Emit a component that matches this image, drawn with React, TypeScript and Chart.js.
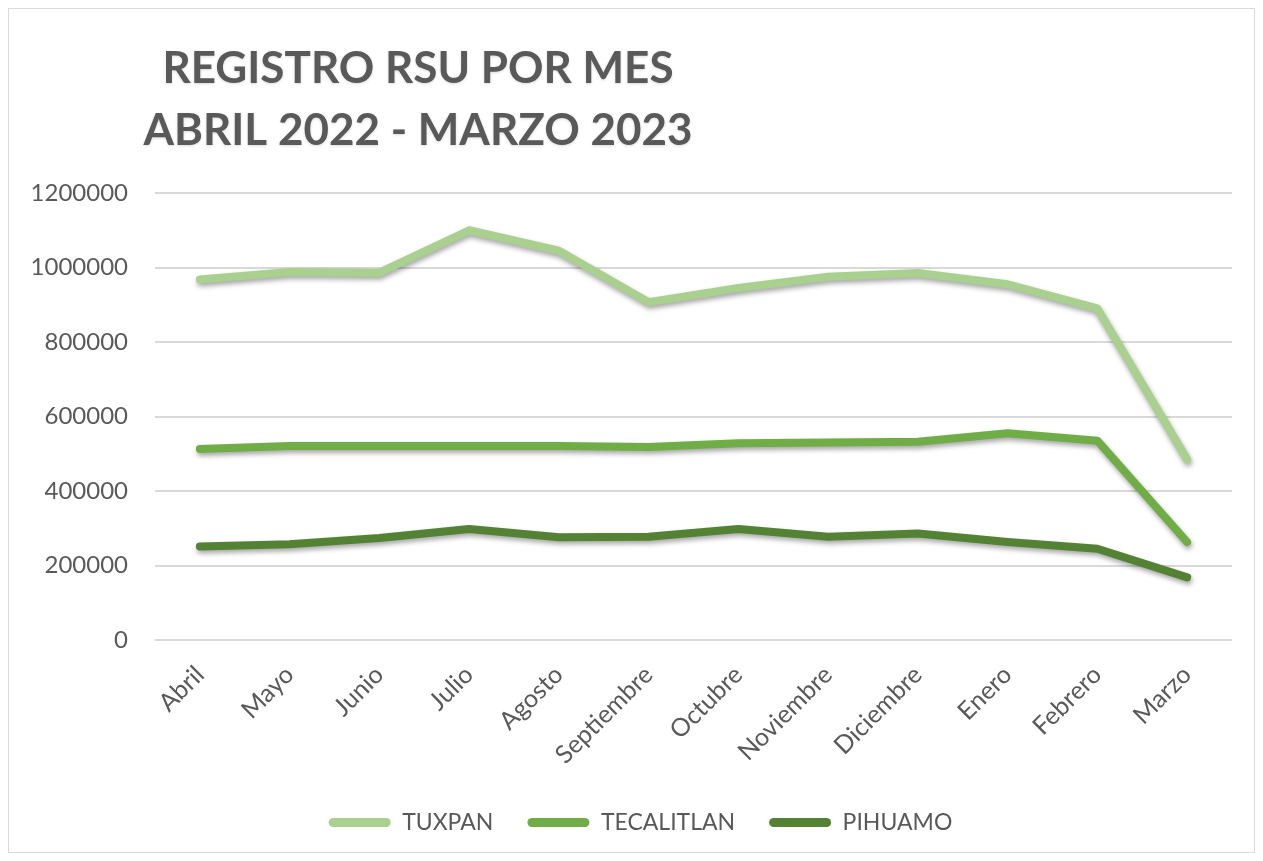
import React, { useEffect, useRef } from "react";
import { Chart, registerables } from "chart.js";

Chart.register(...registerables);

const titleLines = ["REGISTRO RSU POR MES", "ABRIL 2022 - MARZO 2023"];
const months = ["Abril", "Mayo", "Junio", "Julio", "Agosto", "Septiembre", "Octubre", "Noviembre", "Diciembre", "Enero", "Febrero", "Marzo"];
const tuxpan = [968000, 988000, 986000, 1100000, 1045000, 907000, 945000, 975000, 985000, 955000, 890000, 485000];
const tecalitlan = [513000, 521000, 521000, 521000, 521000, 518000, 528000, 530000, 532000, 555000, 535000, 263000];
const pihuamo = [251000, 257000, 274000, 298000, 276000, 277000, 298000, 277000, 286000, 263000, 245000, 168000];
const yMin = 0;
const yMax = 1200000;
const yStep = 200000;

const seriesNames = ["TUXPAN", "TECALITLAN", "PIHUAMO"];
const seriesColors = ["#a9d08e", "#70ad47", "#548235"];

export default function App() {
  const ref = useRef<HTMLCanvasElement>(null);

  useEffect(() => {
    if (!ref.current) return;
    const shadowPlugin = {
      id: "lineShadow",
      beforeDatasetsDraw(chart: any) {
        const ctx = chart.ctx;
        ctx.save();
        ctx.shadowColor = "rgba(0,0,0,0.35)";
        ctx.shadowBlur = 5;
        ctx.shadowOffsetX = 1;
        ctx.shadowOffsetY = 3;
      },
      afterDatasetsDraw(chart: any) {
        chart.ctx.restore();
      },
    };
    const legendShift = {
      id: "legendShift",
      afterLayout(chart: any) {
        if (chart.legend) {
          chart.legend.left += 15;
          chart.legend.right += 15;
        }
      },
    };
    const titlePlugin = {
      id: "customTitle",
      afterDraw(chart: any) {
        const ctx = chart.ctx;
        ctx.save();
        ctx.font = "bold 44px Lato";
        ctx.fillStyle = "#595959";
        ctx.textAlign = "center";
        ctx.textBaseline = "alphabetic";
        ctx.shadowColor = "rgba(0,0,0,0.15)";
        ctx.shadowBlur = 3;
        ctx.shadowOffsetY = 1;
        ctx.fillText(titleLines[0], 409, 74);
        ctx.fillText(titleLines[1], 409, 136);
        ctx.restore();
      },
    };
    const data = [tuxpan, tecalitlan, pihuamo];
    const defaultGen = (Chart.defaults.plugins.legend.labels as any).generateLabels;
    const chart = new Chart(ref.current, {
      type: "line",
      data: {
        labels: months,
        datasets: data.map((d, i) => ({
          label: seriesNames[i],
          data: d,
          borderColor: seriesColors[i],
          backgroundColor: seriesColors[i],
          borderWidth: 8,
          pointRadius: 0,
          tension: 0,
          borderCapStyle: "round" as const,
          borderJoinStyle: "round" as const,
        })),
      },
      options: {
        animation: false,
        responsive: false,
        layout: { padding: { top: 184, left: 10, right: 22, bottom: 8 } },
        plugins: {
          title: { display: false },
          tooltip: { enabled: false },
          legend: {
            position: "bottom",
            labels: {
              boxWidth: 62,
              boxHeight: 9,
              useBorderRadius: true,
              borderRadius: 4.5,
              padding: 34,
              color: "#595959",
              font: { family: "Lato", size: 23 },
              generateLabels(chart: any) {
                return defaultGen(chart).map((l: any) => ({ ...l, lineWidth: 0 }));
              },
            },
          },
        },
        scales: {
          x: {
            offset: true,
            grid: { display: false },
            border: { display: false },
            ticks: {
              color: "#595959",
              font: { family: "Lato", size: 25 },
              minRotation: 45,
              maxRotation: 45,
              padding: 12,
            },
            afterFit(scale: any) {
              scale.height = 137;
            },
          },
          y: {
            min: yMin,
            max: yMax,
            grid: { color: "#d9d9d9", lineWidth: 2, drawTicks: false },
            border: { display: false },
            ticks: {
              stepSize: yStep,
              color: "#595959",
              font: { family: "Lato", size: 24 },
              padding: 27,
              callback: (v: any) => String(v),
            },
            afterFit(scale: any) {
              scale.width = 136;
            },
          },
        },
      },
      plugins: [shadowPlugin, legendShift, titlePlugin],
    });
    return () => chart.destroy();
  }, []);

  return (
    <div style={{ position: "relative", width: 1245, height: 843, border: "1px solid #d9d9d9" }}>
      <canvas ref={ref} width={1245} height={843} style={{ display: "block" }} />
    </div>
  );
}
